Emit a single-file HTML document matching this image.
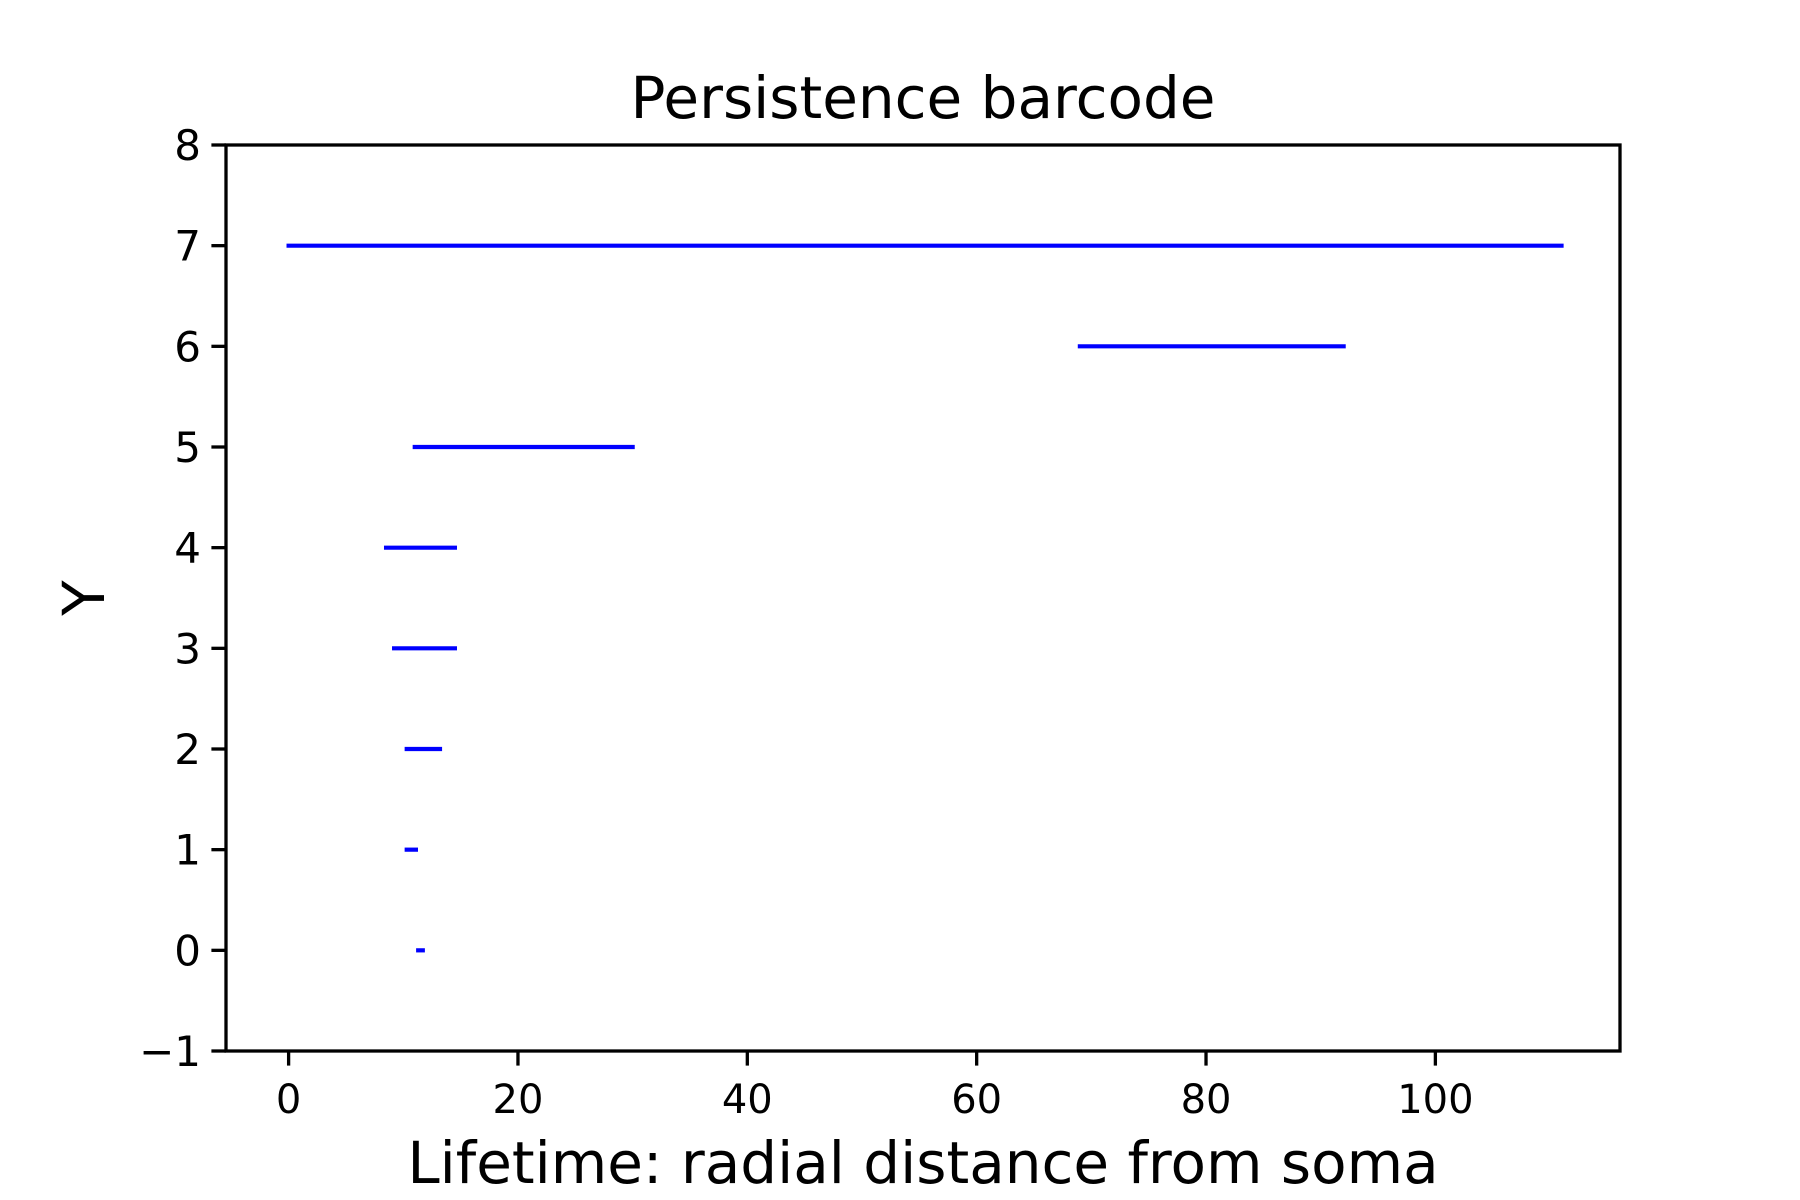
<!DOCTYPE html>
<html><head><meta charset="utf-8"><style>html,body{margin:0;padding:0;background:#fff}svg{display:block}</style></head>
<body>
<svg id="chart" width="1800" height="1200" xmlns="http://www.w3.org/2000/svg" font-family="DejaVu Sans, Liberation Sans, sans-serif">
<rect width="1800" height="1200" fill="#fff"/>
<text x="923" y="118" font-size="58" text-anchor="middle">Persistence barcode</text>
<text x="923" y="1183" font-size="58" text-anchor="middle">Lifetime: radial distance from soma</text>
<text x="0" y="0" font-size="58" text-anchor="middle" transform="translate(104,598) rotate(-90)">Y</text>
<g id="bars"></g>
<g id="xticks"></g>
<g id="yticks"></g>
<rect x="226" y="145" width="1394" height="906" fill="none" stroke="#000" stroke-width="3.3"/>
</svg>
<script>
const births = [11.3, 10.3, 10.3, 9.2, 8.5, 11, 69, 0];
const deaths = [11.7, 11.1, 13.2, 14.5, 14.5, 30, 92, 111];
const levels = [0, 1, 2, 3, 4, 5, 6, 7];
const xTicks = [0, 20, 40, 60, 80, 100];
const yTicks = [-1, 0, 1, 2, 3, 4, 5, 6, 7, 8];
const yTickLabels = ["\u22121", "0", "1", "2", "3", "4", "5", "6", "7", "8"];

const L=226,R=1620,T=145,B=1051,XMIN=-5.46,XMAX=116.1,YMIN=-1,YMAX=8;
const sx=v=>L+(v-XMIN)/(XMAX-XMIN)*(R-L);
const sy=v=>B-(v-YMIN)/(YMAX-YMIN)*(B-T);
const NS="http://www.w3.org/2000/svg";
function mk(tag,attrs,parent){const e=document.createElementNS(NS,tag);for(const k in attrs)e.setAttribute(k,attrs[k]);parent.appendChild(e);return e;}
const gb=document.getElementById('bars');
levels.forEach((lv,i)=>{
  const l=mk('line',{x1:sx(births[i]),x2:sx(deaths[i]),y1:sy(lv),y2:sy(lv),stroke:'#0000ff','stroke-width':4.2,'stroke-linecap':'square'},gb);
  
  
});
const gx=document.getElementById('xticks');
xTicks.forEach(v=>{
  const t=mk('line',{x1:sx(v),x2:sx(v),y1:B,y2:B+14.6,stroke:'#000','stroke-width':3.3},gx);
  
  
  const tx=mk('text',{x:sx(v),y:B+62,'font-size':40,'text-anchor':'middle'},gx);
  tx.textContent=v;
  
  
});
const gy=document.getElementById('yticks');
yTicks.forEach((v,i)=>{
  const t=mk('line',{x1:L-14.6,x2:L,y1:sy(v),y2:sy(v),stroke:'#000','stroke-width':3.3},gy);
  
  
  const tx=mk('text',{x:L-25,y:sy(v)+15,'font-size':42,'text-anchor':'end'},gy);
  tx.textContent=yTickLabels[i];
  
  
});
</script>
</body></html>
